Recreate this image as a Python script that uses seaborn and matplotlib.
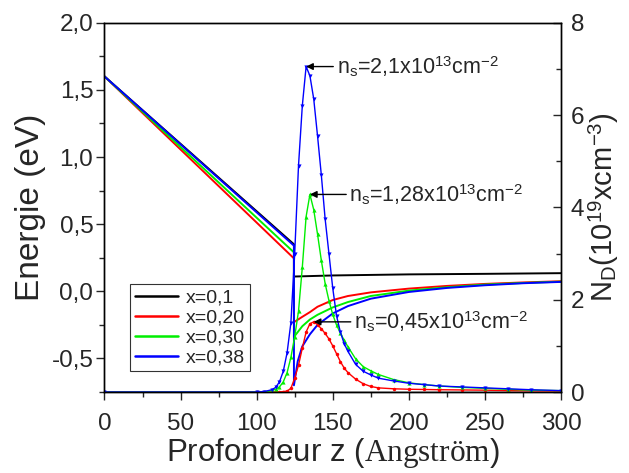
import matplotlib
matplotlib.use("Agg")
import matplotlib.pyplot as plt
import seaborn as sns
import pandas as pd
from matplotlib.ticker import FixedLocator

# ---------------- data ----------------
# Conduction band energy (eV) vs depth z (Angstrom)
e_z_black = [0, 124.5, 124.5, 150, 200, 250, 300]
e_black = [1.6, 0.35, 0.11, 0.118, 0.126, 0.13, 0.135]

e_z_red = [0, 124.5, 124.5, 130, 135, 140, 150, 160, 175, 200, 225, 250, 275, 300]
e_red = [1.6, 0.245, -0.23, -0.19, -0.155, -0.115, -0.065, -0.035, -0.008, 0.02, 0.04, 0.055, 0.066, 0.075]

e_z_green = [0, 124.5, 124.5, 130, 135, 140, 150, 160, 175, 200, 225, 250, 275, 300]
e_green = [1.6, 0.29, -0.34, -0.26, -0.21, -0.175, -0.12, -0.08, -0.035, 0.005, 0.03, 0.05, 0.062, 0.072]

e_z_blue = [0, 124.5, 124.5, 127, 130, 135, 140, 150, 160, 175, 200, 225, 250, 275, 300]
e_blue = [1.6, 0.34, -0.70, -0.52, -0.41, -0.32, -0.25, -0.165, -0.11, -0.055, -0.005, 0.025, 0.045, 0.06, 0.07]

# Electron density N (1e19 cm^-3) vs depth z
n_z = [0, 100, 105, 110, 112.5, 115, 117.5, 120, 122.5, 125, 127.5, 130, 132.5,
       135, 137.5, 140, 142.5, 145, 147.5, 150, 152.5, 155, 157.5, 160, 165, 170,
       175, 180, 190, 200, 210, 220, 235, 250, 265, 280, 300]
n_black = [0] * 37
n_red = [0, 0, 0, 0, 0, 0, 0.01, 0.02, 0.08, 0.3, 0.58, 0.95, 1.3,
         1.48, 1.52, 1.46, 1.37, 1.27, 1.15, 1.0, 0.83, 0.66, 0.52, 0.42, 0.28, 0.18,
         0.12, 0.09, 0.07, 0.06, 0.055, 0.05, 0.045, 0.04, 0.03, 0.025, 0.02]
n_green = [0, 0, 0, 0.03, 0.06, 0.11, 0.22, 0.42, 0.75, 1.2, 1.75, 2.7, 3.8,
           4.28, 3.95, 3.42, 2.85, 2.35, 1.98, 1.68, 1.45, 1.28, 1.12, 0.98, 0.72, 0.55,
           0.46, 0.38, 0.27, 0.2, 0.16, 0.13, 0.1, 0.08, 0.06, 0.04, 0.03]
n_blue = [0, 0, 0.01, 0.05, 0.1, 0.22, 0.45, 0.85, 1.5, 3.0, 4.9, 6.2, 7.05,
          6.85, 6.35, 5.55, 4.7, 3.75, 3.0, 2.25, 1.65, 1.3, 1.05, 0.88, 0.6, 0.45,
          0.37, 0.3, 0.24, 0.19, 0.16, 0.13, 0.11, 0.09, 0.07, 0.05, 0.03]

series_labels = ["x=0,1", "x=0,20", "x=0,30", "x=0,38"]
series_colors = ["#000000", "#ff0000", "#00ee00", "#0000ff"]

x_ticks = [0, 50, 100, 150, 200, 250, 300]
y_ticks = [-0.5, 0.0, 0.5, 1.0, 1.5, 2.0]
y_ticklabels = ["-0,5", "0,0", "0,5", "1,0", "1,5", "2,0"]
y2_ticks = [0, 2, 4, 6, 8]

ann_texts = [r"n$_\mathregular{s}$=2,1x10$^\mathregular{13}$cm$^\mathregular{-2}$",
             r"n$_\mathregular{s}$=1,28x10$^\mathregular{13}$cm$^\mathregular{-2}$",
             r"n$_\mathregular{s}$=0,45x10$^\mathregular{13}$cm$^\mathregular{-2}$"]
ann_peak_z = [132.5, 135, 137.5]
ann_peak_n = [7.05, 4.28, 1.52]
ann_text_z = [152.5, 161, 164]

# ---------------- style ----------------
sns.set_style("ticks")
plt.rcParams["font.family"] = ["Liberation Sans", "DejaVu Sans"]
plt.rcParams["mathtext.fontset"] = "custom"
plt.rcParams["mathtext.rm"] = "Liberation Serif"
plt.rcParams["mathtext.it"] = "Liberation Serif:italic"
plt.rcParams["axes.edgecolor"] = "black"
plt.rcParams["axes.linewidth"] = 1.0

fig = plt.figure(figsize=(6.29, 4.73), dpi=100)
ax = fig.add_axes([0.1661, 0.1712, 0.7258, 0.7808])
ax2 = ax.twinx()
ax2.set_position([0.1661, 0.1712, 0.7258, 0.7808])

energy = [(e_z_black, e_black), (e_z_red, e_red), (e_z_green, e_green), (e_z_blue, e_blue)]
for (zz, ee), col, lab in zip(energy, series_colors, series_labels):
    df = pd.DataFrame({"z": zz, "E": ee})
    sns.lineplot(data=df, x="z", y="E", ax=ax, color=col, lw=1.4, sort=False,
                 estimator=None, label=lab, legend=False)

dens = [n_black, n_red, n_green, n_blue]
markers = ["", "o", "^", "v"]
msizes = [0, 2.5, 3, 3]
for nn, col, mk, ms in zip(dens, series_colors, markers, msizes):
    df = pd.DataFrame({"z": n_z, "N": nn})
    sns.lineplot(data=df, x="z", y="N", ax=ax2, color=col, lw=1.0, sort=False,
                 estimator=None, marker=mk if mk else None, markersize=ms,
                 markeredgewidth=0, legend=False)

# axes limits & ticks
ax.set_xlim(0, 300)
ax.set_ylim(-0.75, 2.0)
ax2.set_ylim(0, 8)
ax.set_xticks(x_ticks)
ax.set_xticklabels([str(v) for v in x_ticks])
ax.xaxis.set_minor_locator(FixedLocator([25, 75, 125, 175, 225, 275]))
ax.set_yticks(y_ticks)
ax.set_yticklabels(y_ticklabels)
ax.yaxis.set_minor_locator(FixedLocator([-0.75, -0.25, 0.25, 0.75, 1.25, 1.75]))
ax2.set_yticks(y2_ticks)
ax2.set_yticklabels([str(v) for v in y2_ticks])
ax2.yaxis.set_minor_locator(FixedLocator([1, 3, 5, 7]))

ax.tick_params(axis="both", which="major", direction="out", length=6, width=1,
               labelsize=17.5, top=False, right=False)
ax.tick_params(axis="x", which="major", pad=9)
ax.tick_params(axis="y", which="major", pad=2)
ax.tick_params(axis="both", which="minor", direction="out", length=3.5, width=1,
               top=False, right=False)
ax2.tick_params(axis="y", which="major", direction="in", length=6, width=1,
                labelsize=17.5, pad=7)
ax2.tick_params(axis="y", which="minor", direction="in", length=3.5, width=1)

ax.set_xlabel(r"Profondeur z ($\mathrm{Angström}$)", fontsize=22.5, labelpad=1)
ax.set_ylabel("Energie (eV)", fontsize=24, labelpad=4)
ax2.set_ylabel(r"N$_\mathregular{D}$(10$^\mathregular{19}$xcm$^\mathregular{-3}$)",
               fontsize=21, labelpad=2)

for sp in ax2.spines.values():
    sp.set_color("black")

# annotations
for txt, pz, pn, tz in zip(ann_texts, ann_peak_z, ann_peak_n, ann_text_z):
    ax2.annotate(txt, xy=(pz, pn), xytext=(tz, pn), fontsize=15.5, va="center", ha="left",
                 arrowprops=dict(arrowstyle="-|>", color="black", lw=1,
                                 mutation_scale=10, shrinkA=0, shrinkB=0))

# legend
handles, labels = ax.get_legend_handles_labels()
leg = ax2.legend(handles, labels, loc="lower left", bbox_to_anchor=(0.035, 0.03),
                 fontsize=14, frameon=True, fancybox=False, handlelength=2.2,
                 borderpad=0.25, labelspacing=0.12, handletextpad=0.4)
leg.get_frame().set_edgecolor("black")
leg.get_frame().set_linewidth(0.8)
for l in leg.get_lines():
    l.set_linewidth(1.8)

fig.savefig("out.png", dpi=100)
